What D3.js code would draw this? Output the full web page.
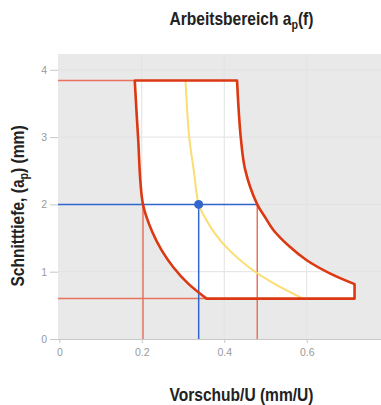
<!DOCTYPE html>
<html><head><meta charset="utf-8">
<script src="https://cdn.jsdelivr.net/npm/d3@7"></script>
<style>
html,body{margin:0;padding:0;background:#fff;overflow:hidden}
svg{display:block}
</style></head>
<body>
<svg id="chart" width="381" height="405"></svg>
<script>
// ---- data ----
const xTicks = [0, 0.2, 0.4, 0.6];
const yTicks = [0, 1, 2, 3, 4];
const topAp = 3.84;
const bottomAp = 0.60;
// right boundary (max feed), from top to bottom: [f, ap]
const rightCurve = [[0.431,3.84],[0.440,3.0],[0.451,2.51],[0.480,2.0],[0.498,1.82],[0.519,1.62],[0.559,1.37],[0.600,1.17],[0.656,0.975],[0.716,0.815]];
// left boundary (min feed), from bottom to top: [f, ap]
const leftCurve = [[0.357,0.60],[0.312,0.826],[0.276,1.07],[0.248,1.32],[0.227,1.57],[0.203,2.0],[0.191,3.0],[0.183,3.84]];
// recommended curve (yellow)
const midCurve = [[0.306,3.84],[0.315,3.0],[0.326,2.51],[0.338,2.0],[0.352,1.82],[0.377,1.57],[0.412,1.32],[0.459,1.07],[0.520,0.826],[0.591,0.60]];
const rightEndF = 0.716;
const selAp = 2.0;
const selF = 0.338;
const selMinF = 0.203;
const selMaxF = 0.480;

// ---- layout ----
const svg = d3.select('#chart');
const plotL = 58, plotR = 381, plotT = 54, plotB = 339;
const x = d3.scaleLinear().domain([0, 0.8]).range([59.3, 389.2]);
const y = d3.scaleLinear().domain([0, 4]).range([339, 69.8]);
const xLeft = x.invert(plotL);

const RED = '#dc3912', BLUE = '#3366cc', YELLOW = '#fbdd72', GRID = '#e2e2e2';

svg.append('rect').attr('x', plotL).attr('y', plotT).attr('width', plotR - plotL).attr('height', plotB - plotT).attr('fill', '#e9e9e9');

// region path
const lineC = d3.line().x(d => x(d[0])).y(d => y(d[1])).curve(d3.curveCatmullRom.alpha(0.5));
const lineL = d3.line().x(d => x(d[0])).y(d => y(d[1]));
let regionPath = lineL([[leftCurve[leftCurve.length-1][0], topAp], [rightCurve[0][0], topAp]]);
regionPath += lineC(rightCurve).replace(/^M/, 'L');
regionPath += lineL([[rightEndF, rightCurve[rightCurve.length-1][1]], [rightEndF, bottomAp], [leftCurve[0][0], bottomAp]]).replace(/^M/, 'L');
regionPath += lineC(leftCurve).replace(/^M/, 'L') + 'Z';

svg.append('path').attr('d', regionPath).attr('fill', '#fff');

// grid
const g = svg.append('g');
g.selectAll('line.vg').data([0.2, 0.4, 0.6, 0.8]).join('line')
  .attr('x1', d => x(d)).attr('x2', d => x(d)).attr('y1', plotT).attr('y2', plotB)
  .attr('stroke', GRID).attr('stroke-width', 1);
g.selectAll('line.hg').data(yTicks.filter(d => d > 0)).join('line')
  .attr('x1', plotL).attr('x2', plotR).attr('y1', d => y(d)).attr('y2', d => y(d))
  .attr('stroke', GRID).attr('stroke-width', 1);

// axes
const xAxis = svg.append('g').attr('transform', `translate(0,${plotB})`)
  .call(d3.axisBottom(x).tickValues(xTicks).tickFormat(d3.format('~g')).tickSizeInner(4).tickSizeOuter(0).tickPadding(6));
xAxis.select('.domain').attr('d', `M${plotL},0.5H${plotR}`).attr('stroke', '#c8c8c8');
xAxis.selectAll('.tick line').attr('stroke', '#c8c8c8');
const yAxis = svg.append('g').attr('transform', `translate(${plotL},0)`)
  .call(d3.axisLeft(y).tickValues(yTicks).tickFormat(d3.format('~g')).tickSizeInner(8).tickSizeOuter(0).tickPadding(3));
yAxis.select('.domain').remove();
yAxis.selectAll('.tick line').attr('stroke', '#c8c8c8');
svg.selectAll('.tick text').attr('fill', '#9a9a9a').attr('font-family', 'Liberation Sans, Arial, sans-serif').attr('font-size', 10.5);

// reference lines
const refRed = '#e8735e';
const refs = [
  {x1: xLeft, y1: topAp, x2: leftCurve[leftCurve.length-1][0], y2: topAp, c: refRed},
  {x1: xLeft, y1: bottomAp, x2: leftCurve[0][0], y2: bottomAp, c: refRed},
  {x1: selMinF, y1: selAp, x2: selMinF, y2: 0, c: refRed},
  {x1: selMaxF, y1: selAp, x2: selMaxF, y2: 0, c: refRed},
  {x1: xLeft, y1: selAp, x2: selMaxF, y2: selAp, c: BLUE},
  {x1: selF, y1: selAp, x2: selF, y2: 0, c: BLUE}
];
svg.selectAll('line.ref').data(refs).join('line')
  .attr('x1', d => x(d.x1)).attr('x2', d => x(d.x2)).attr('y1', d => y(d.y1)).attr('y2', d => y(d.y2))
  .attr('stroke', d => d.c).attr('stroke-width', 1.5);

// yellow curve
svg.append('path').attr('d', lineC(midCurve)).attr('fill', 'none').attr('stroke', YELLOW).attr('stroke-width', 2);

// region border
svg.append('path').attr('d', regionPath).attr('fill', 'none').attr('stroke', RED).attr('stroke-width', 2.6).attr('stroke-linejoin', 'round');

// dot
svg.append('circle').attr('cx', x(selF)).attr('cy', y(selAp)).attr('r', 4.5).attr('fill', BLUE);

// titles (condensed via horizontal scaling)
const FONT = 'Liberation Sans, Arial, sans-serif';
const SQ = 0.89;
const title = svg.append('text').attr('transform', `translate(241.5,25) scale(${SQ},1)`).attr('text-anchor', 'middle')
  .attr('font-family', FONT).attr('font-weight', 'bold').attr('font-size', 17.5).attr('fill', '#222');
title.append('tspan').text('Arbeitsbereich a');
title.append('tspan').attr('font-size', 12).attr('dy', 4).text('p');
title.append('tspan').attr('dy', -4).text('(f)');

svg.append('text').attr('transform', `translate(241.5,400.5) scale(${SQ},1)`).attr('text-anchor', 'middle')
  .attr('font-family', FONT).attr('font-weight', 'bold').attr('font-size', 17.5).attr('fill', '#222')
  .text('Vorschub/U (mm/U)');

const yt = svg.append('text').attr('transform', `translate(23.5,206) rotate(-90) scale(${SQ},1)`).attr('text-anchor', 'middle')
  .attr('font-family', FONT).attr('font-weight', 'bold').attr('font-size', 17.5).attr('fill', '#222');
yt.append('tspan').text('Schnitttiefe, (a');
yt.append('tspan').attr('font-size', 12).attr('dy', 4).text('p');
yt.append('tspan').attr('dy', -4).text(') (mm)');
</script>
</body></html>
